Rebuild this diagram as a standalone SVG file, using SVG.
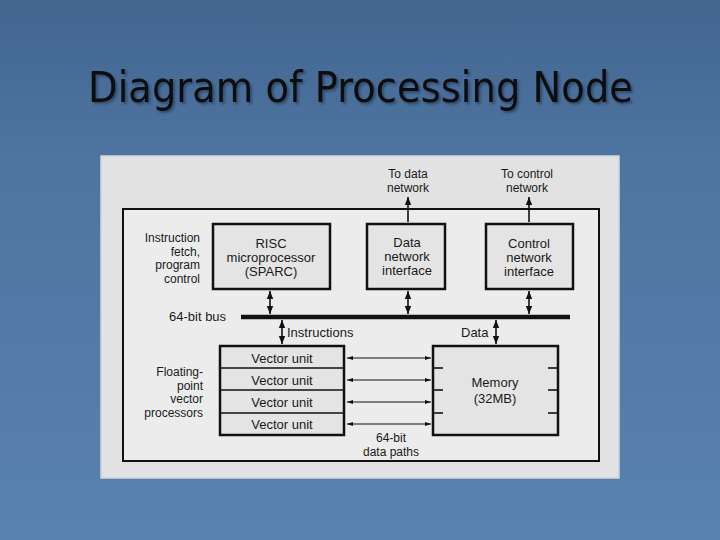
<svg xmlns="http://www.w3.org/2000/svg" width="720" height="540" viewBox="0 0 720 540">
<defs>
<linearGradient id="bg" x1="0" y1="0" x2="0" y2="1">
<stop offset="0" stop-color="#426690"/>
<stop offset="0.3" stop-color="#4e74a0"/>
<stop offset="1" stop-color="#5a82ae"/>
</linearGradient>
<filter id="sh" x="-5%" y="-20%" width="110%" height="140%">
<feDropShadow dx="2" dy="2" stdDeviation="0.8" flood-color="#1d3050" flood-opacity="0.6"/>
</filter>
<marker id="ah" viewBox="0 0 10 10" refX="10" refY="5" markerWidth="5" markerHeight="5" orient="auto-start-reverse" markerUnits="strokeWidth">
<path d="M0,1 L10,5 L0,9 z" fill="#111"/>
</marker>
<marker id="ahs" viewBox="0 0 10 10" refX="10" refY="5" markerWidth="8" markerHeight="6" orient="auto-start-reverse" markerUnits="strokeWidth">
<path d="M0,1.5 L10,5 L0,8.5 z" fill="#111"/>
</marker>
</defs>
<style>
.t{font-family:"Liberation Sans",Arial,sans-serif;font-size:13px;fill:#1a1a1a}
.s{font-size:12px}
.m{text-anchor:middle}
.r{text-anchor:end}
.box{fill:#e4e4e4;stroke:#111;stroke-width:2.5}
.ln{stroke:#111;stroke-width:1.6;fill:none}
.thin{stroke:#111;stroke-width:1;fill:none}
</style>
<rect width="720" height="540" fill="url(#bg)"/>
<text x="88" y="102" font-family="DejaVu Sans,Verdana,sans-serif" font-size="42" fill="#0a0a0a" filter="url(#sh)" textLength="545" lengthAdjust="spacingAndGlyphs">Diagram of Processing Node</text>
<rect x="101" y="156" width="518" height="322" fill="#e2e2e2" stroke="#cfd6de" stroke-width="1.5"/>
<rect id="outer" x="123" y="209" width="476" height="252" fill="#ececec" stroke="#111" stroke-width="2"/>
<g id="risc">
<rect class="box" x="213" y="224" width="117" height="65"/>
<text class="t m" x="271" y="248">RISC</text>
<text class="t m" x="271" y="262">microprocessor</text>
<text class="t m" x="271" y="276">(SPARC)</text>
</g>
<g id="dni">
<rect class="box" x="367" y="224" width="78" height="65"/>
<text class="t m" x="407" y="247">Data</text>
<text class="t m" x="407" y="261">network</text>
<text class="t m" x="407" y="275">interface</text>
</g>
<g id="cni">
<rect class="box" x="486" y="224" width="87" height="65"/>
<text class="t m" x="529" y="248">Control</text>
<text class="t m" x="529" y="262">network</text>
<text class="t m" x="529" y="276">interface</text>
</g>
<g id="bus">
<line x1="241" y1="317" x2="570" y2="317" stroke="#111" stroke-width="4.5"/>
<text class="t" x="169" y="321">64-bit bus</text>
</g>
<g id="vector">
<rect class="box" x="220" y="346" width="124" height="89"/>
<line class="ln" x1="220" y1="368" x2="344" y2="368" stroke-width="2"/>
<line class="ln" x1="220" y1="390" x2="344" y2="390" stroke-width="2"/>
<line class="ln" x1="220" y1="413" x2="344" y2="413" stroke-width="2"/>
<text class="t m" x="282" y="363">Vector unit</text>
<text class="t m" x="282" y="385">Vector unit</text>
<text class="t m" x="282" y="407">Vector unit</text>
<text class="t m" x="282" y="429">Vector unit</text>
</g>
<g id="memory">
<rect class="box" x="433" y="346" width="125" height="89"/>
<line class="ln" x1="433" y1="368" x2="443" y2="368"/>
<line class="ln" x1="433" y1="390" x2="443" y2="390"/>
<line class="ln" x1="433" y1="413" x2="443" y2="413"/>
<line class="ln" x1="548" y1="368" x2="558" y2="368"/>
<line class="ln" x1="548" y1="390" x2="558" y2="390"/>
<line class="ln" x1="548" y1="413" x2="558" y2="413"/>
<text class="t m" x="495" y="387">Memory</text>
<text class="t m" x="495" y="403">(32MB)</text>
</g>
<g id="labels">
<text class="t s r" x="200" y="242">Instruction</text>
<text class="t s r" x="200" y="255.5">fetch,</text>
<text class="t s r" x="200" y="269">program</text>
<text class="t s r" x="200" y="282.5">control</text>
<text class="t s r" x="203" y="376">Floating-</text>
<text class="t s r" x="203" y="389.5">point</text>
<text class="t s r" x="203" y="403">vector</text>
<text class="t s r" x="203" y="416.5">processors</text>
<text class="t s m" x="408" y="178">To data</text>
<text class="t s m" x="408" y="191.5">network</text>
<text class="t s m" x="527" y="178">To control</text>
<text class="t s m" x="527" y="191.5">network</text>
<text class="t" x="287" y="337">Instructions</text>
<text class="t" x="461" y="337">Data</text>
<text class="t s m" x="391" y="442">64-bit</text>
<text class="t s m" x="391" y="455.5">data paths</text>
</g>
<g id="connectors">
<line class="ln" x1="270" y1="291" x2="270" y2="314" marker-start="url(#ah)" marker-end="url(#ah)"/>
<line class="ln" x1="408" y1="197" x2="408" y2="222" marker-start="url(#ah)"/>
<line class="ln" x1="408" y1="291" x2="408" y2="314" marker-start="url(#ah)" marker-end="url(#ah)"/>
<line class="ln" x1="529" y1="197" x2="529" y2="222" marker-start="url(#ah)"/>
<line class="ln" x1="529" y1="291" x2="529" y2="314" marker-start="url(#ah)" marker-end="url(#ah)"/>
<line class="ln" x1="282" y1="320" x2="282" y2="344" marker-start="url(#ah)" marker-end="url(#ah)"/>
<line class="ln" x1="496" y1="320" x2="496" y2="344" marker-start="url(#ah)" marker-end="url(#ah)"/>
<line class="thin" x1="347" y1="358" x2="431" y2="358" marker-start="url(#ahs)" marker-end="url(#ahs)"/>
<line class="thin" x1="347" y1="380" x2="431" y2="380" marker-start="url(#ahs)" marker-end="url(#ahs)"/>
<line class="thin" x1="347" y1="402" x2="431" y2="402" marker-start="url(#ahs)" marker-end="url(#ahs)"/>
<line class="thin" x1="347" y1="424" x2="431" y2="424" marker-start="url(#ahs)" marker-end="url(#ahs)"/>
</g>
</svg>
